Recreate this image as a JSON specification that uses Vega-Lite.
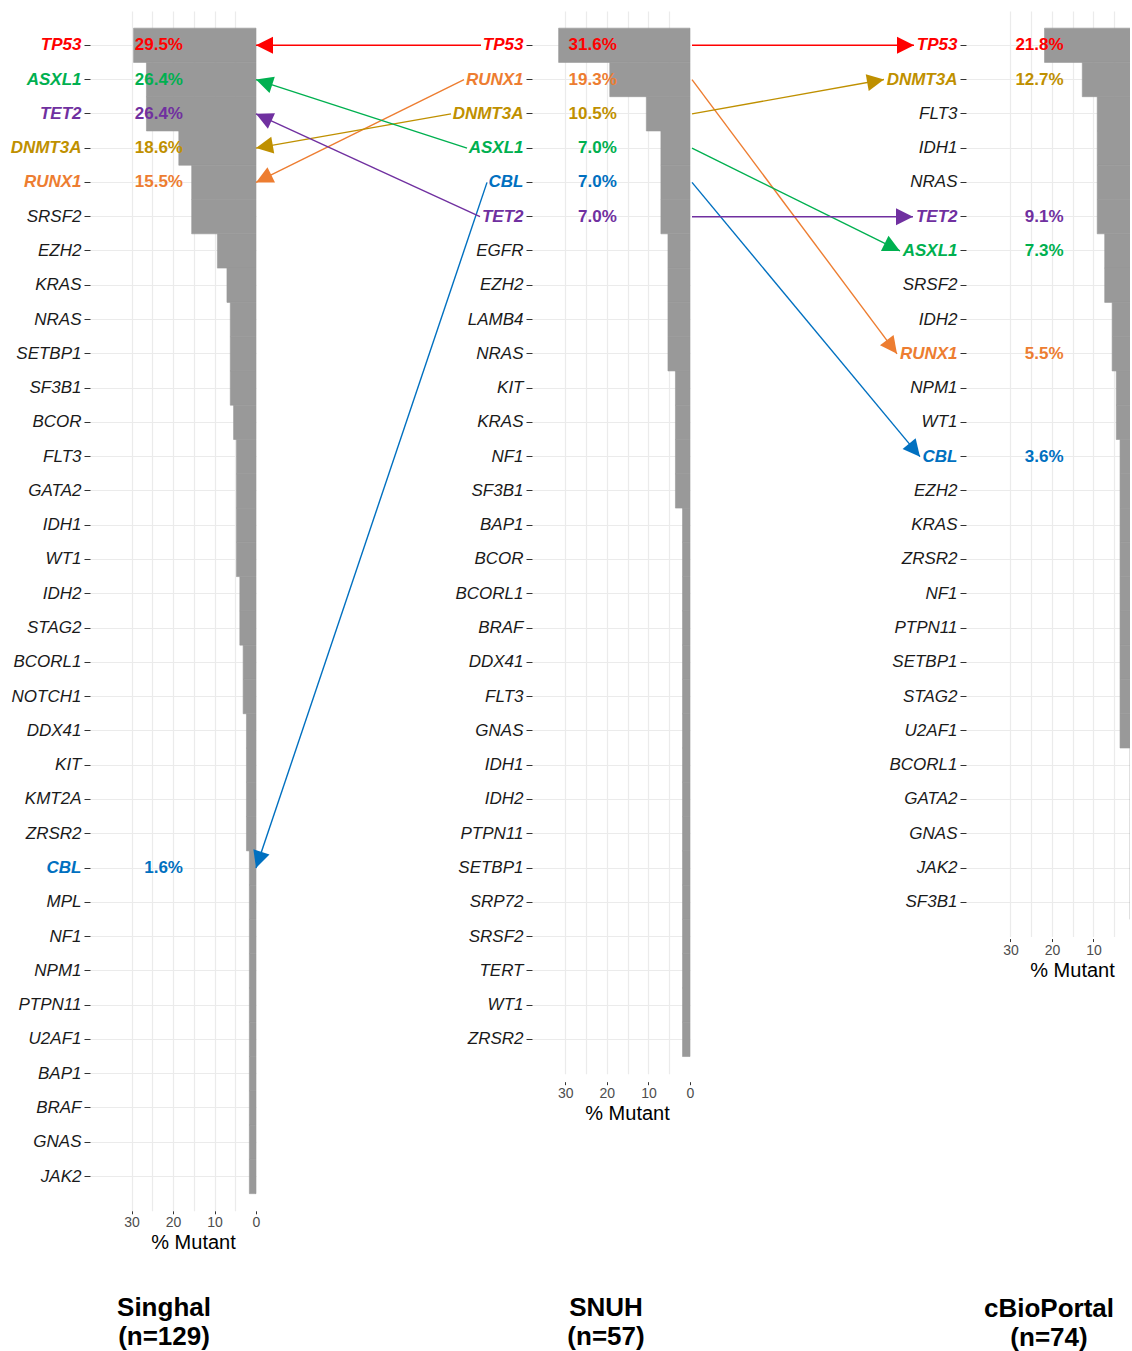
{
  "$schema": "https://vega.github.io/schema/vega-lite/v6.json",
  "usermeta": {"embedOptions": {"actions": false}},
  "background": "white",
  "autosize": {"type": "pad"},
  "padding": {"left": 10, "top": 11, "right": 0, "bottom": 0},
  "bounds": "flush",
  "spacing": 276,
  "datasets": {
    "genes": [
      {"cohort": "Singhal", "gene": "TP53", "fraction": 0.295},
      {"cohort": "Singhal", "gene": "ASXL1", "fraction": 0.264},
      {"cohort": "Singhal", "gene": "TET2", "fraction": 0.264},
      {"cohort": "Singhal", "gene": "DNMT3A", "fraction": 0.186},
      {"cohort": "Singhal", "gene": "RUNX1", "fraction": 0.155},
      {"cohort": "Singhal", "gene": "SRSF2", "fraction": 0.155},
      {"cohort": "Singhal", "gene": "EZH2", "fraction": 0.093},
      {"cohort": "Singhal", "gene": "KRAS", "fraction": 0.070},
      {"cohort": "Singhal", "gene": "NRAS", "fraction": 0.062},
      {"cohort": "Singhal", "gene": "SETBP1", "fraction": 0.062},
      {"cohort": "Singhal", "gene": "SF3B1", "fraction": 0.062},
      {"cohort": "Singhal", "gene": "BCOR", "fraction": 0.054},
      {"cohort": "Singhal", "gene": "FLT3", "fraction": 0.047},
      {"cohort": "Singhal", "gene": "GATA2", "fraction": 0.047},
      {"cohort": "Singhal", "gene": "IDH1", "fraction": 0.047},
      {"cohort": "Singhal", "gene": "WT1", "fraction": 0.047},
      {"cohort": "Singhal", "gene": "IDH2", "fraction": 0.039},
      {"cohort": "Singhal", "gene": "STAG2", "fraction": 0.039},
      {"cohort": "Singhal", "gene": "BCORL1", "fraction": 0.031},
      {"cohort": "Singhal", "gene": "NOTCH1", "fraction": 0.031},
      {"cohort": "Singhal", "gene": "DDX41", "fraction": 0.023},
      {"cohort": "Singhal", "gene": "KIT", "fraction": 0.023},
      {"cohort": "Singhal", "gene": "KMT2A", "fraction": 0.023},
      {"cohort": "Singhal", "gene": "ZRSR2", "fraction": 0.023},
      {"cohort": "Singhal", "gene": "CBL", "fraction": 0.016},
      {"cohort": "Singhal", "gene": "MPL", "fraction": 0.016},
      {"cohort": "Singhal", "gene": "NF1", "fraction": 0.016},
      {"cohort": "Singhal", "gene": "NPM1", "fraction": 0.016},
      {"cohort": "Singhal", "gene": "PTPN11", "fraction": 0.016},
      {"cohort": "Singhal", "gene": "U2AF1", "fraction": 0.016},
      {"cohort": "Singhal", "gene": "BAP1", "fraction": 0.016},
      {"cohort": "Singhal", "gene": "BRAF", "fraction": 0.016},
      {"cohort": "Singhal", "gene": "GNAS", "fraction": 0.016},
      {"cohort": "Singhal", "gene": "JAK2", "fraction": 0.016},
      {"cohort": "SNUH", "gene": "TP53", "fraction": 0.316},
      {"cohort": "SNUH", "gene": "RUNX1", "fraction": 0.193},
      {"cohort": "SNUH", "gene": "DNMT3A", "fraction": 0.105},
      {"cohort": "SNUH", "gene": "ASXL1", "fraction": 0.070},
      {"cohort": "SNUH", "gene": "CBL", "fraction": 0.070},
      {"cohort": "SNUH", "gene": "TET2", "fraction": 0.070},
      {"cohort": "SNUH", "gene": "EGFR", "fraction": 0.053},
      {"cohort": "SNUH", "gene": "EZH2", "fraction": 0.053},
      {"cohort": "SNUH", "gene": "LAMB4", "fraction": 0.053},
      {"cohort": "SNUH", "gene": "NRAS", "fraction": 0.053},
      {"cohort": "SNUH", "gene": "KIT", "fraction": 0.035},
      {"cohort": "SNUH", "gene": "KRAS", "fraction": 0.035},
      {"cohort": "SNUH", "gene": "NF1", "fraction": 0.035},
      {"cohort": "SNUH", "gene": "SF3B1", "fraction": 0.035},
      {"cohort": "SNUH", "gene": "BAP1", "fraction": 0.018},
      {"cohort": "SNUH", "gene": "BCOR", "fraction": 0.018},
      {"cohort": "SNUH", "gene": "BCORL1", "fraction": 0.018},
      {"cohort": "SNUH", "gene": "BRAF", "fraction": 0.018},
      {"cohort": "SNUH", "gene": "DDX41", "fraction": 0.018},
      {"cohort": "SNUH", "gene": "FLT3", "fraction": 0.018},
      {"cohort": "SNUH", "gene": "GNAS", "fraction": 0.018},
      {"cohort": "SNUH", "gene": "IDH1", "fraction": 0.018},
      {"cohort": "SNUH", "gene": "IDH2", "fraction": 0.018},
      {"cohort": "SNUH", "gene": "PTPN11", "fraction": 0.018},
      {"cohort": "SNUH", "gene": "SETBP1", "fraction": 0.018},
      {"cohort": "SNUH", "gene": "SRP72", "fraction": 0.018},
      {"cohort": "SNUH", "gene": "SRSF2", "fraction": 0.018},
      {"cohort": "SNUH", "gene": "TERT", "fraction": 0.018},
      {"cohort": "SNUH", "gene": "WT1", "fraction": 0.018},
      {"cohort": "SNUH", "gene": "ZRSR2", "fraction": 0.018},
      {"cohort": "cBioPortal", "gene": "TP53", "fraction": 0.218},
      {"cohort": "cBioPortal", "gene": "DNMT3A", "fraction": 0.127},
      {"cohort": "cBioPortal", "gene": "FLT3", "fraction": 0.091},
      {"cohort": "cBioPortal", "gene": "IDH1", "fraction": 0.091},
      {"cohort": "cBioPortal", "gene": "NRAS", "fraction": 0.091},
      {"cohort": "cBioPortal", "gene": "TET2", "fraction": 0.091},
      {"cohort": "cBioPortal", "gene": "ASXL1", "fraction": 0.073},
      {"cohort": "cBioPortal", "gene": "SRSF2", "fraction": 0.073},
      {"cohort": "cBioPortal", "gene": "IDH2", "fraction": 0.055},
      {"cohort": "cBioPortal", "gene": "RUNX1", "fraction": 0.055},
      {"cohort": "cBioPortal", "gene": "NPM1", "fraction": 0.045},
      {"cohort": "cBioPortal", "gene": "WT1", "fraction": 0.045},
      {"cohort": "cBioPortal", "gene": "CBL", "fraction": 0.036},
      {"cohort": "cBioPortal", "gene": "EZH2", "fraction": 0.036},
      {"cohort": "cBioPortal", "gene": "KRAS", "fraction": 0.036},
      {"cohort": "cBioPortal", "gene": "ZRSR2", "fraction": 0.036},
      {"cohort": "cBioPortal", "gene": "NF1", "fraction": 0.036},
      {"cohort": "cBioPortal", "gene": "PTPN11", "fraction": 0.036},
      {"cohort": "cBioPortal", "gene": "SETBP1", "fraction": 0.036},
      {"cohort": "cBioPortal", "gene": "STAG2", "fraction": 0.036},
      {"cohort": "cBioPortal", "gene": "U2AF1", "fraction": 0.036},
      {"cohort": "cBioPortal", "gene": "BCORL1", "fraction": 0.012},
      {"cohort": "cBioPortal", "gene": "GATA2", "fraction": 0.012},
      {"cohort": "cBioPortal", "gene": "GNAS", "fraction": 0.012},
      {"cohort": "cBioPortal", "gene": "JAK2", "fraction": 0.012},
      {"cohort": "cBioPortal", "gene": "SF3B1", "fraction": 0.012}
    ],
    "arrows": [
      {"gene": "TP53", "target": "Singhal", "snuh_rank": 1, "target_rank": 1},
      {"gene": "RUNX1", "target": "Singhal", "snuh_rank": 2, "target_rank": 5},
      {"gene": "DNMT3A", "target": "Singhal", "snuh_rank": 3, "target_rank": 4},
      {"gene": "ASXL1", "target": "Singhal", "snuh_rank": 4, "target_rank": 2},
      {"gene": "CBL", "target": "Singhal", "snuh_rank": 5, "target_rank": 25},
      {"gene": "TET2", "target": "Singhal", "snuh_rank": 6, "target_rank": 3},
      {"gene": "TP53", "target": "cBioPortal", "snuh_rank": 1, "target_rank": 1},
      {"gene": "RUNX1", "target": "cBioPortal", "snuh_rank": 2, "target_rank": 10},
      {"gene": "DNMT3A", "target": "cBioPortal", "snuh_rank": 3, "target_rank": 2},
      {"gene": "ASXL1", "target": "cBioPortal", "snuh_rank": 4, "target_rank": 7},
      {"gene": "CBL", "target": "cBioPortal", "snuh_rank": 5, "target_rank": 13},
      {"gene": "TET2", "target": "cBioPortal", "snuh_rank": 6, "target_rank": 6}
    ]
  },
  "hconcat": [
    {
      "width": 166,
      "height": 1199.8,
      "data": {"name": "genes"},
      "transform": [{"filter": "datum.cohort === 'Singhal'"}],
      "title": {"text": ["Singhal", "(n=129)"], "orient": "bottom", "anchor": "middle", "frame": "group", "offset": 42, "dx": -9},
      "layer": [
        {
          "mark": {"type": "bar", "color": "#999999", "stroke": "#999999", "strokeWidth": 0.6},
          "encoding": {
            "y": {"field": "gene", "type": "nominal", "sort": null,
              "scale": {"paddingInner": 0, "paddingOuter": 0.5},
              "axis": {"title": null, "domain": false, "ticks": true, "tickSize": 6, "tickColor": "#333333", "tickWidth": 1,
                "labelPadding": 3, "labelFontSize": 17, "labelFontStyle": "italic",
                "labelColor": {"expr": "datum.value === 'TP53' ? '#FF0000' : datum.value === 'ASXL1' ? '#00B050' : datum.value === 'TET2' ? '#7030A0' : datum.value === 'DNMT3A' ? '#BF9000' : datum.value === 'RUNX1' ? '#ED7D31' : datum.value === 'CBL' ? '#0070C0' : '#1a1a1a'"},
                "labelFontWeight": {"expr": "indexof(['TP53','ASXL1','TET2','DNMT3A','RUNX1','CBL'], datum.value) >= 0 ? 'bold' : 'normal'"},
                "grid": true, "gridColor": "#ebebeb", "gridWidth": 1.2}},
            "x": {"field": "fraction", "type": "quantitative",
              "scale": {"domain": [0, 0.4], "reverse": true, "nice": false, "zero": false},
              "axis": {"values": [0, 0.05, 0.1, 0.15, 0.2, 0.25, 0.3], "tickCount": 20,
                "labelExpr": "round(datum.value*100) % 10 == 0 ? format(datum.value*100, 'd') : ''",
                "title": "% Mutant", "titleX": 103, "titleAlign": "center", "titlePadding": 3,
                "grid": true, "gridColor": "#ebebeb", "gridWidth": 1.2,
                "gridOpacity": {"expr": "datum.value == 0 ? 0 : 1"},
                "tickOpacity": {"expr": "round(datum.value*100) % 10 == 0 ? 1 : 0"}}}
          }
        },
        {
          "mark": {"type": "text", "align": "right", "baseline": "middle", "fontWeight": "bold", "fontSize": 17},
          "encoding": {
            "y": {"field": "gene", "type": "nominal", "sort": null},
            "x": {"datum": 0.176, "type": "quantitative"},
            "text": {"condition": {"test": {"field": "gene", "oneOf": ["TP53", "ASXL1", "TET2", "DNMT3A", "RUNX1", "CBL"]}, "field": "fraction", "type": "quantitative", "format": ".1%"}, "value": ""},
            "color": {"field": "gene", "type": "nominal", "legend": null,
              "scale": {"domain": ["TP53", "ASXL1", "TET2", "DNMT3A", "RUNX1", "CBL"], "range": ["#FF0000", "#00B050", "#7030A0", "#BF9000", "#ED7D31", "#0070C0"]}}
          }
        }
      ]
    },
    {
      "width": 158,
      "height": 1062.68,
      "title": {"text": ["SNUH", "(n=57)"], "orient": "bottom", "anchor": "middle", "frame": "group", "offset": 171, "dx": -5},
      "layer": [
        {
          "data": {"name": "genes"},
          "transform": [{"filter": "datum.cohort === 'SNUH'"}],
          "layer": [
            {
              "mark": {"type": "bar", "color": "#999999", "stroke": "#999999", "strokeWidth": 0.6},
              "encoding": {
                "y": {"field": "gene", "type": "nominal", "sort": null,
                  "scale": {"paddingInner": 0, "paddingOuter": 0.5},
                  "axis": {"title": null, "domain": false, "ticks": true, "tickSize": 6, "tickColor": "#333333", "tickWidth": 1,
                    "labelPadding": 3, "labelFontSize": 17, "labelFontStyle": "italic",
                    "labelColor": {"expr": "datum.value === 'TP53' ? '#FF0000' : datum.value === 'ASXL1' ? '#00B050' : datum.value === 'TET2' ? '#7030A0' : datum.value === 'DNMT3A' ? '#BF9000' : datum.value === 'RUNX1' ? '#ED7D31' : datum.value === 'CBL' ? '#0070C0' : '#1a1a1a'"},
                    "labelFontWeight": {"expr": "indexof(['TP53','ASXL1','TET2','DNMT3A','RUNX1','CBL'], datum.value) >= 0 ? 'bold' : 'normal'"},
                    "grid": true, "gridColor": "#ebebeb", "gridWidth": 1.2}},
                "x": {"field": "fraction", "type": "quantitative",
                  "scale": {"domain": [0, 0.38], "reverse": true, "nice": false, "zero": false},
                  "axis": {"values": [0, 0.05, 0.1, 0.15, 0.2, 0.25, 0.3], "tickCount": 20, "offset": 8,
                    "labelExpr": "round(datum.value*100) % 10 == 0 ? format(datum.value*100, 'd') : ''",
                    "title": "% Mutant", "titleX": 95, "titleAlign": "center", "titlePadding": 3,
                    "grid": true, "gridColor": "#ebebeb", "gridWidth": 1.2,
                    "gridOpacity": {"expr": "datum.value == 0 ? 0 : 1"},
                    "tickOpacity": {"expr": "round(datum.value*100) % 10 == 0 ? 1 : 0"}}}
              }
            },
            {
              "mark": {"type": "text", "align": "right", "baseline": "middle", "fontWeight": "bold", "fontSize": 17},
              "encoding": {
                "y": {"field": "gene", "type": "nominal", "sort": null},
                "x": {"datum": 0.176, "type": "quantitative"},
                "text": {"condition": {"test": {"field": "gene", "oneOf": ["TP53", "ASXL1", "TET2", "DNMT3A", "RUNX1", "CBL"]}, "field": "fraction", "type": "quantitative", "format": ".1%"}, "value": ""},
                "color": {"field": "gene", "type": "nominal", "legend": null,
                  "scale": {"domain": ["TP53", "ASXL1", "TET2", "DNMT3A", "RUNX1", "CBL"], "range": ["#FF0000", "#00B050", "#7030A0", "#BF9000", "#ED7D31", "#0070C0"]}}
              }
            }
          ]
        },
        {
          "data": {"name": "arrows"},
          "layer": [
            {
              "transform": [{"filter": "datum.target === 'Singhal'"}],
              "mark": {"type": "rule", "strokeWidth": 1.4,
                "xOffset": {"expr": "datum.gene === 'TP53' ? -42 : datum.gene === 'RUNX1' ? -59 : datum.gene === 'DNMT3A' ? -72 : datum.gene === 'ASXL1' ? -56 : datum.gene === 'CBL' ? -36 : -43"}},
              "encoding": {
                "x": {"datum": 0.4016, "type": "quantitative", "scale": {"domain": [0, 0.38], "reverse": true, "nice": false, "zero": false}},
                "x2": {"datum": 1.0438},
                "y": {"field": "snuh_rank", "type": "quantitative", "axis": null,
                  "scale": {"domain": [0, 31], "reverse": true, "nice": false, "zero": false}},
                "y2": {"field": "target_rank"},
                "color": {"field": "gene", "type": "nominal", "legend": null,
                  "scale": {"domain": ["TP53", "ASXL1", "TET2", "DNMT3A", "RUNX1", "CBL"], "range": ["#FF0000", "#00B050", "#7030A0", "#BF9000", "#ED7D31", "#0070C0"]}}
              }
            },
            {
              "transform": [{"filter": "datum.target === 'Singhal'"}],
              "mark": {"type": "point", "shape": "M0,0L-1,-0.5L-1,0.5Z", "size": 1156, "filled": true, "opacity": 1, "strokeWidth": 0,
                "angle": {"expr": "datum.gene === 'TP53' ? 180 : datum.gene === 'RUNX1' ? 153.7 : datum.gene === 'DNMT3A' ? 170 : datum.gene === 'ASXL1' ? 198 : datum.gene === 'CBL' ? 108.6 : 204.7"}},
              "encoding": {
                "x": {"datum": 1.0438, "type": "quantitative"},
                "y": {"field": "target_rank", "type": "quantitative"},
                "color": {"field": "gene", "type": "nominal", "legend": null}
              }
            },
            {
              "transform": [{"filter": "datum.target === 'cBioPortal'"}],
              "mark": {"type": "rule", "strokeWidth": 1.4, "xOffset": 2,
                "x2Offset": {"expr": "datum.gene === 'TP53' ? -43 : datum.gene === 'DNMT3A' ? -73 : datum.gene === 'TET2' ? -44 : datum.gene === 'ASXL1' ? -57 : datum.gene === 'RUNX1' ? -60 : -37"}},
              "encoding": {
                "x": {"datum": 0, "type": "quantitative"},
                "x2": {"datum": -0.6421},
                "y": {"field": "snuh_rank", "type": "quantitative"},
                "y2": {"field": "target_rank"},
                "color": {"field": "gene", "type": "nominal", "legend": null}
              }
            },
            {
              "transform": [{"filter": "datum.target === 'cBioPortal'"}],
              "mark": {"type": "point", "shape": "M0,0L-1,-0.5L-1,0.5Z", "size": 1156, "filled": true, "opacity": 1, "strokeWidth": 0,
                "xOffset": {"expr": "datum.gene === 'TP53' ? -43 : datum.gene === 'DNMT3A' ? -73 : datum.gene === 'TET2' ? -44 : datum.gene === 'ASXL1' ? -57 : datum.gene === 'RUNX1' ? -60 : -37"},
                "angle": {"expr": "datum.gene === 'RUNX1' ? 53.2 : datum.gene === 'DNMT3A' ? -10.1 : datum.gene === 'ASXL1' ? 26.3 : datum.gene === 'CBL' ? 50.3 : 0"}},
              "encoding": {
                "x": {"datum": -0.6421, "type": "quantitative"},
                "y": {"field": "target_rank", "type": "quantitative"},
                "color": {"field": "gene", "type": "nominal", "legend": null}
              }
            }
          ]
        }
      ],
      "resolve": {"scale": {"y": "independent"}, "axis": {"y": "independent"}}
    },
    {
      "width": 164,
      "height": 925.56,
      "data": {"name": "genes"},
      "transform": [{"filter": "datum.cohort === 'cBioPortal'"}],
      "title": {"text": ["cBioPortal", "(n=74)"], "orient": "bottom", "anchor": "middle", "frame": "group", "offset": 315, "dx": 1},
      "layer": [
        {
          "mark": {"type": "bar", "color": "#999999", "stroke": "#999999", "strokeWidth": 0.6, "clip": true},
          "encoding": {
            "y": {"field": "gene", "type": "nominal", "sort": null,
              "scale": {"paddingInner": 0, "paddingOuter": 0.5},
              "axis": {"title": null, "domain": false, "ticks": true, "tickSize": 6, "tickColor": "#333333", "tickWidth": 1,
                "labelPadding": 3, "labelFontSize": 17, "labelFontStyle": "italic",
                "labelColor": {"expr": "datum.value === 'TP53' ? '#FF0000' : datum.value === 'ASXL1' ? '#00B050' : datum.value === 'TET2' ? '#7030A0' : datum.value === 'DNMT3A' ? '#BF9000' : datum.value === 'RUNX1' ? '#ED7D31' : datum.value === 'CBL' ? '#0070C0' : '#1a1a1a'"},
                "labelFontWeight": {"expr": "indexof(['TP53','ASXL1','TET2','DNMT3A','RUNX1','CBL'], datum.value) >= 0 ? 'bold' : 'normal'"},
                "grid": true, "gridColor": "#ebebeb", "gridWidth": 1.2}},
            "x": {"field": "fraction", "type": "quantitative",
              "scale": {"domain": [0.012, 0.4072], "reverse": true, "nice": false, "zero": false},
              "axis": {"values": [0.05, 0.1, 0.15, 0.2, 0.25, 0.3], "tickCount": 20, "offset": 2,
                "labelExpr": "round(datum.value*100) % 10 == 0 ? format(datum.value*100, 'd') : ''",
                "title": "% Mutant", "titleX": 106, "titleAlign": "center", "titlePadding": 3,
                "grid": true, "gridColor": "#ebebeb", "gridWidth": 1.2,
                "tickOpacity": {"expr": "round(datum.value*100) % 10 == 0 ? 1 : 0"}}}
          }
        },
        {
          "mark": {"type": "text", "align": "right", "baseline": "middle", "fontWeight": "bold", "fontSize": 17},
          "encoding": {
            "y": {"field": "gene", "type": "nominal", "sort": null},
            "x": {"datum": 0.172, "type": "quantitative"},
            "text": {"condition": {"test": {"field": "gene", "oneOf": ["TP53", "ASXL1", "TET2", "DNMT3A", "RUNX1", "CBL"]}, "field": "fraction", "type": "quantitative", "format": ".1%"}, "value": ""},
            "color": {"field": "gene", "type": "nominal", "legend": null,
              "scale": {"domain": ["TP53", "ASXL1", "TET2", "DNMT3A", "RUNX1", "CBL"], "range": ["#FF0000", "#00B050", "#7030A0", "#BF9000", "#ED7D31", "#0070C0"]}}
          }
        }
      ]
    }
  ],
  "config": {
    "view": {"stroke": null},
    "font": "Liberation Sans",
    "axis": {
      "domain": false,
      "labelFont": "Liberation Sans",
      "titleFont": "Liberation Sans"
    },
    "axisX": {
      "labelFontSize": 14,
      "labelColor": "#4d4d4d",
      "labelPadding": 2,
      "labelOverlap": false,
      "labelFlush": false,
      "tickSize": 3,
      "tickColor": "#333333",
      "titleFontSize": 20,
      "titleFontWeight": "normal",
      "titleColor": "#000000"
    },
    "title": {
      "font": "Liberation Sans",
      "fontSize": 26,
      "fontWeight": "bold",
      "lineHeight": 29,
      "color": "#000000"
    }
  }
}
